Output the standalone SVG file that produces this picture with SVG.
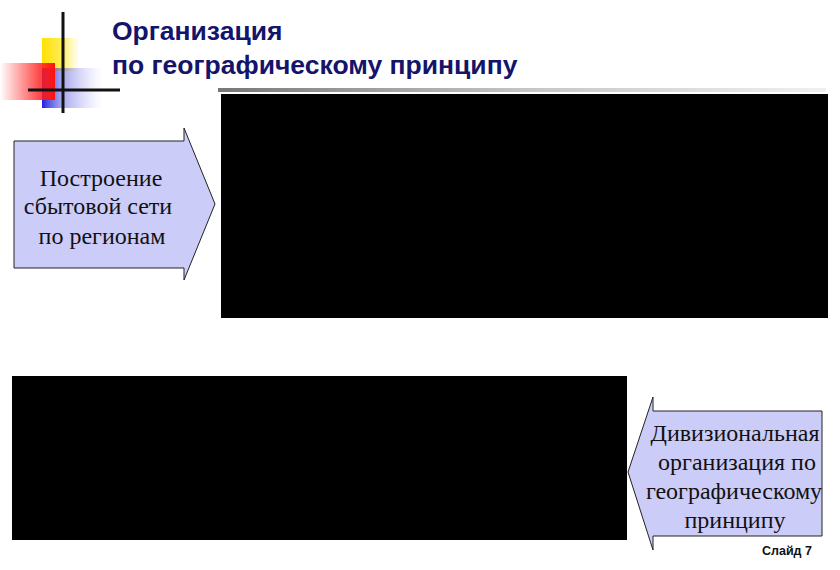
<svg xmlns="http://www.w3.org/2000/svg" width="840" height="570" viewBox="0 0 840 570">
<style>
.title{font-family:"Liberation Sans",Arial,sans-serif;font-weight:bold;font-size:26.5px;fill:#14146b}
.lbl{font-family:"Liberation Serif","Times New Roman",serif;font-size:24px;fill:#111;text-anchor:middle}
.arrow{fill:#ccccf8;stroke:#222;stroke-width:1}
.foot{font-family:"Liberation Sans",Arial,sans-serif;font-weight:bold;font-size:12.5px;fill:#111}
</style>
<defs>
<linearGradient id="gRed" x1="0" y1="0" x2="1" y2="0">
<stop offset="0" stop-color="#ff2020" stop-opacity="0"/>
<stop offset="0.7" stop-color="#ff2020" stop-opacity="0.8"/>
<stop offset="1" stop-color="#ff1010" stop-opacity="1"/>
</linearGradient>
<linearGradient id="gBlue" x1="0" y1="0" x2="1" y2="0">
<stop offset="0" stop-color="#2020e0" stop-opacity="1"/>
<stop offset="0.3" stop-color="#6060e0" stop-opacity="0.6"/>
<stop offset="1" stop-color="#a0a0f0" stop-opacity="0"/>
</linearGradient>
<linearGradient id="gYel" x1="0" y1="0" x2="1" y2="0">
<stop offset="0" stop-color="#ffe000"/>
<stop offset="0.6" stop-color="#ffee60"/>
<stop offset="1" stop-color="#fff8c0" stop-opacity="0.3"/>
</linearGradient>
<linearGradient id="gBar" x1="0" y1="0" x2="1" y2="0">
<stop offset="0" stop-color="#777"/>
<stop offset="0.5" stop-color="#c4c4c4"/>
<stop offset="1" stop-color="#f0f0f0"/>
</linearGradient>
</defs>
<rect width="840" height="570" fill="#fff"/>
<g id="logo">
<rect x="42" y="38" width="36" height="33" fill="url(#gYel)"/>
<rect x="42" y="68" width="60" height="40" fill="url(#gBlue)"/>
<rect x="0" y="63" width="55" height="37" fill="url(#gRed)"/>
<line x1="63" y1="12" x2="63" y2="113" stroke="#111" stroke-width="3"/>
<line x1="28" y1="90" x2="120" y2="90" stroke="#111" stroke-width="3"/>
</g>
<g id="title">
<text class="title" x="112" y="40">Организация</text>
<text class="title" x="112" y="74">по географическому принципу</text>
</g>
<g id="topPanel">
<rect x="218" y="88" width="608" height="4" fill="url(#gBar)"/>
<rect x="221" y="94" width="607" height="224" fill="#000"/>
</g>
<g id="bottomPanel">
<rect x="12" y="376" width="615" height="164" fill="#000"/>
</g>
<g id="arrowLeft">
<polygon class="arrow" points="14,141 184,141 184,128 215,204 184,280 184,268 14,268"/>
<text class="lbl" x="101" y="186">Построение</text>
<text class="lbl" x="98" y="214">сбытовой сети</text>
<text class="lbl" x="102" y="244">по регионам</text>
</g>
<g id="arrowRight">
<polygon class="arrow" points="822,411 653,411 653,397 628,472 653,550 653,536 822,536"/>
<text class="lbl" x="735" y="441">Дивизиональная</text>
<text class="lbl" x="737" y="470">организация по</text>
<text class="lbl" x="734" y="499">географическому</text>
<text class="lbl" x="735" y="528">принципу</text>
</g>
<g id="footer">
<text class="foot" x="762" y="555">Слайд 7</text>
</g>
<g id="connectors"/>
</svg>
